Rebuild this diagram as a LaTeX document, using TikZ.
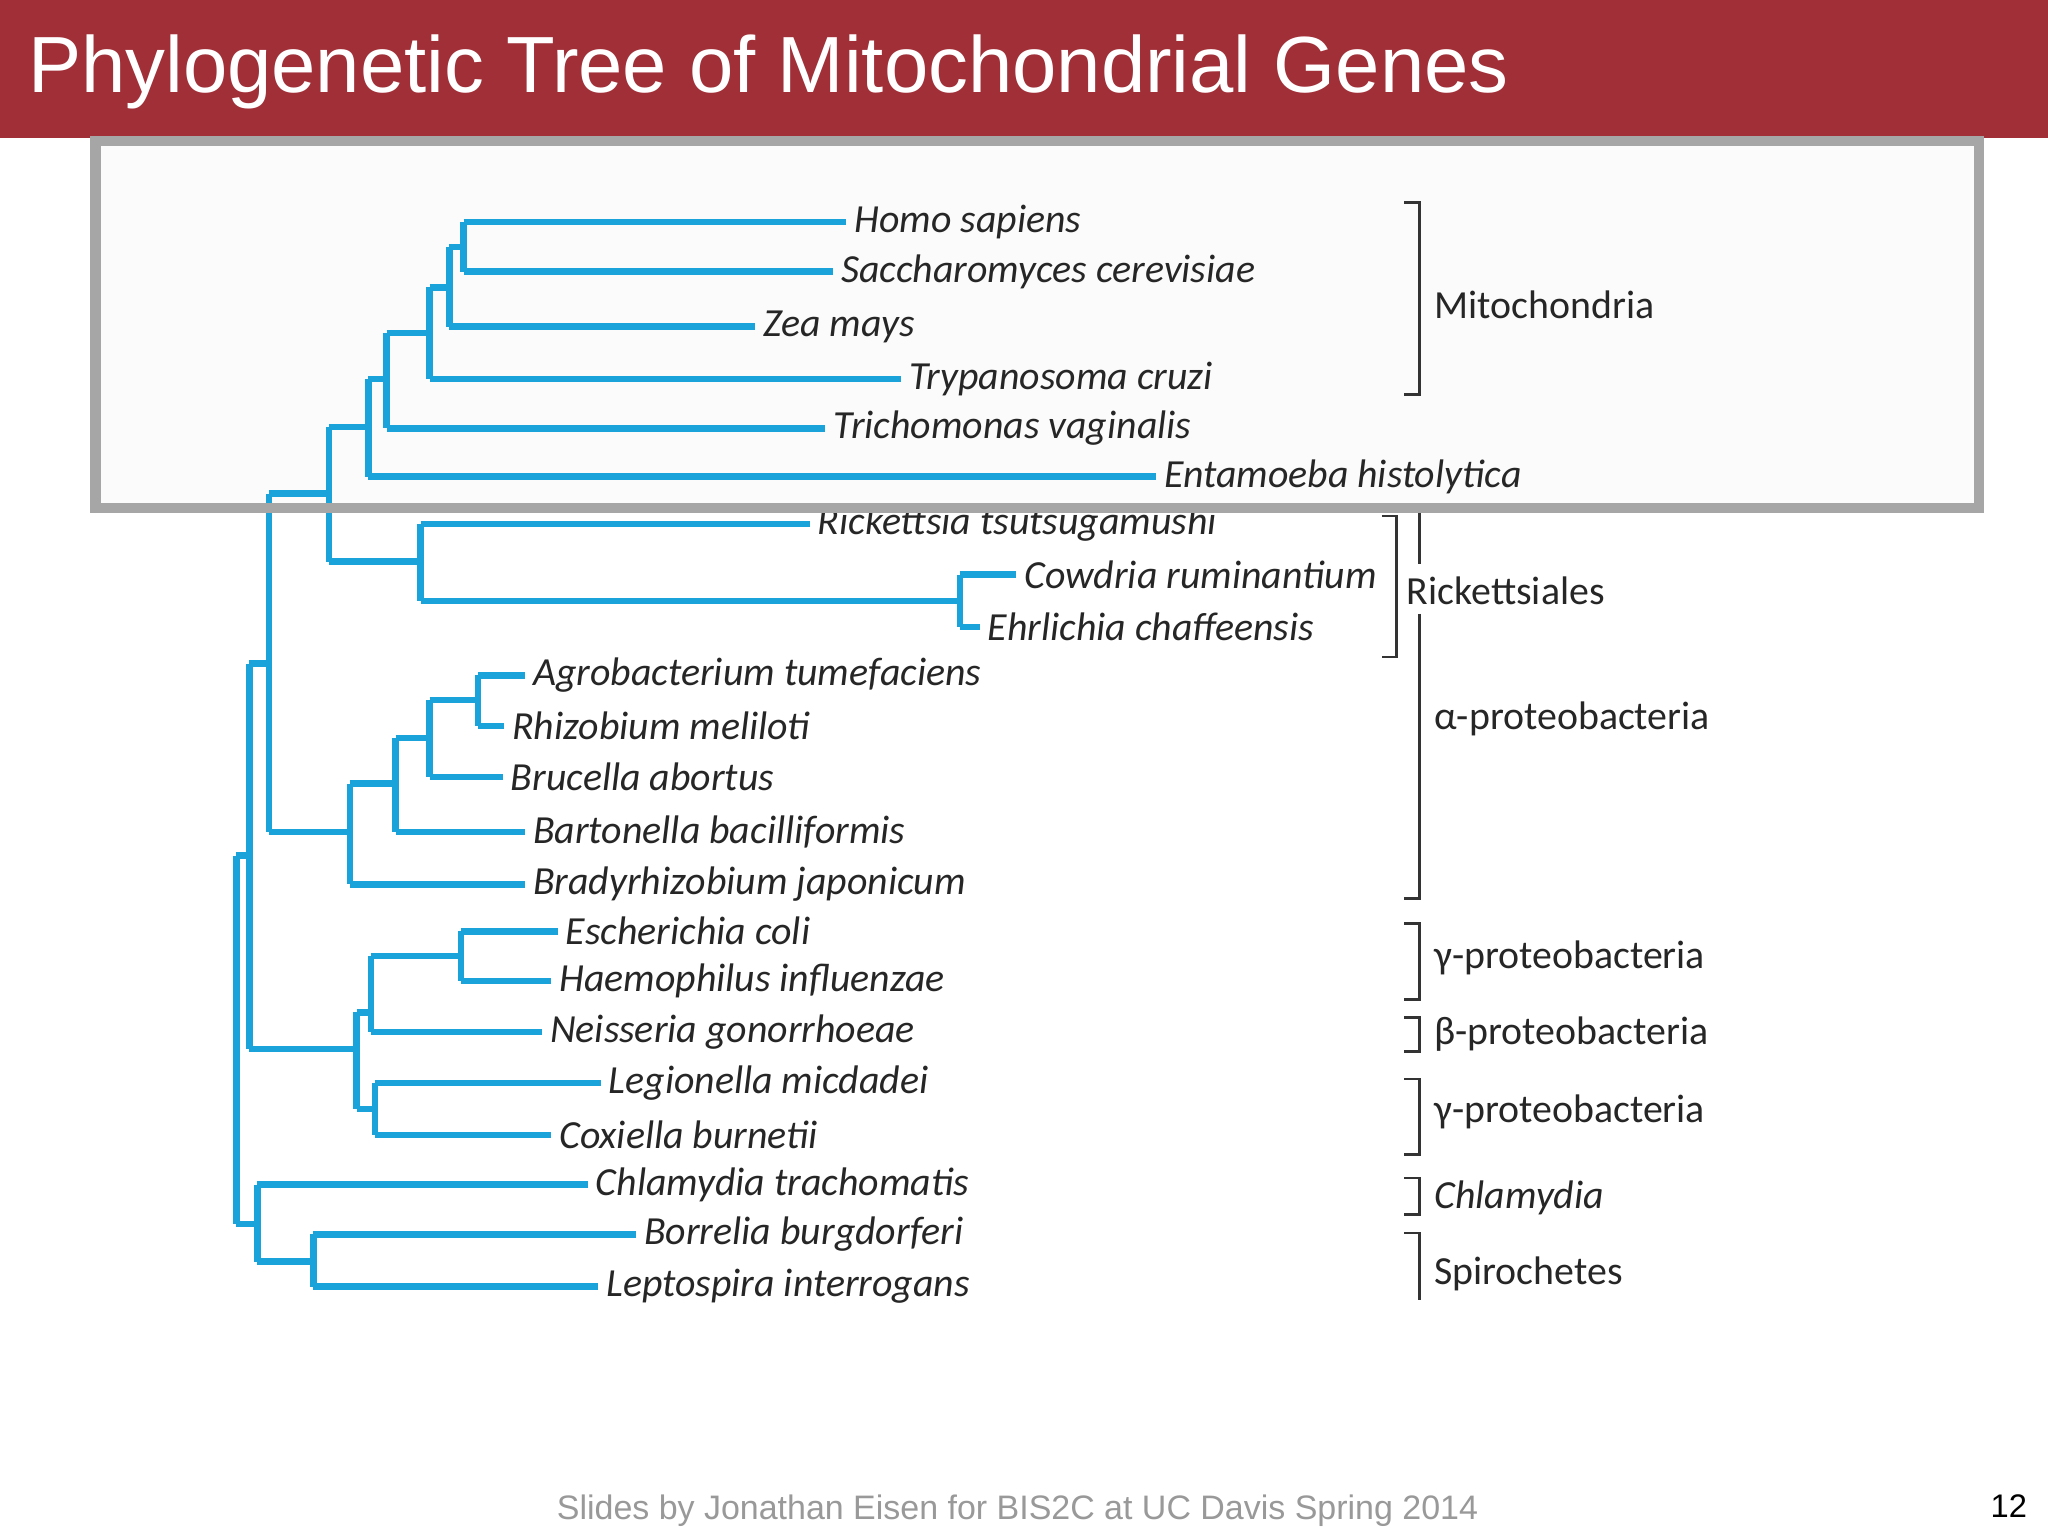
\documentclass[tikz,border=0pt]{standalone}
\usepackage{fontspec}
\setmainfont{Carlito}
\newfontfamily\arial{Liberation Sans}
\definecolor{tb}{HTML}{1AA3DB}
\definecolor{bar}{HTML}{A12F38}
\begin{document}
\begin{tikzpicture}[x=1pt,y=-1pt,
  br/.style={draw=tb,line width=5pt,line cap=butt,line join=miter},
  lf/.style={anchor=west,inner sep=0pt,font=\fontsize{30.5}{34}\selectfont\itshape,text=black!85},
  gl/.style={anchor=west,inner sep=0pt,font=\fontsize{30.5}{34}\selectfont,text=black!85},
  bk/.style={draw=black!80,line width=2pt}]
\useasboundingbox (0,0) rectangle (1568,1176);
\fill[white] (0,0) rectangle (1568,1176);
\fill[bar] (0,0) rectangle (1568,106);
\node[anchor=west,text=white,font=\arial\fontsize{61}{64}\selectfont] (title) at (18,55) {Phylogenetic Tree of Mitochondrial Genes};
\fill[green!20!black!2] (73,108) rectangle (1515,389);
\foreach \n/\y/\e/\s/\t in {
 hs/170/648/355/Homo sapiens,
 sc/208/638/355/Saccharomyces cerevisiae,
 zm/250/578/344/Zea mays,
 tc/290/690/329/Trypanosoma cruzi,
 tv/328/632/296/Trichomonas vaginalis,
 eh/365/885/282/Entamoeba histolytica,
 rt/401/620/322/Rickettsia tsutsugamushi,
 cr/440/778/735/Cowdria ruminantium,
 ec/480/750/735/Ehrlichia chaffeensis,
 at/517/402/366/Agrobacterium tumefaciens,
 rm/556/386/366/Rhizobium meliloti,
 ba/595/385/329/Brucella abortus,
 bb/637/402/303/Bartonella bacilliformis,
 bj/677/402/268/Bradyrhizobium japonicum,
 co/713/427/353/Escherichia coli,
 hi/751/422/353/Haemophilus influenzae,
 ng/790/415/284/Neisseria gonorrhoeae,
 lm/829/460/287/Legionella micdadei,
 cb/869/422/287/Coxiella burnetii,
 ct/907/450/197/Chlamydia trachomatis,
 bg/945/487/240/Borrelia burgdorferi,
 li/985/458/240/Leptospira interrogans}{
 \node[lf] (\n) at (\e+6,\y) {\t};
 \draw[br] (\s,\y) -- (\e,\y);
}
\draw[br] (355,170) -- (355,208);
\draw[br] (344,189) -- (355,189); \draw[br] (344,189) -- (344,250);
\draw[br] (329,220) -- (344,220); \draw[br] (329,220) -- (329,290);
\draw[br] (296,255) -- (329,255); \draw[br] (296,255) -- (296,328);
\draw[br] (282,290) -- (296,290); \draw[br] (282,290) -- (282,365);
\draw[br] (252,327) -- (282,327); \draw[br] (252,327) -- (252,430);
\draw[br] (735,440) -- (735,480); \draw[br] (322,460) -- (735,460);
\draw[br] (322,401) -- (322,460); \draw[br] (252,430) -- (322,430);
\draw[br] (206,378) -- (252,378);
\draw[br] (366,517) -- (366,556);
\draw[br] (329,536) -- (366,536); \draw[br] (329,536) -- (329,595);
\draw[br] (303,565) -- (329,565); \draw[br] (303,565) -- (303,637);
\draw[br] (268,600) -- (303,600); \draw[br] (268,600) -- (268,677);
\draw[br] (206,637) -- (268,637); \draw[br] (206,378) -- (206,637);
\draw[br] (191,508) -- (206,508);
\draw[br] (353,713) -- (353,751);
\draw[br] (284,732) -- (353,732); \draw[br] (284,732) -- (284,790);
\draw[br] (287,829) -- (287,869);
\draw[br] (273,775) -- (284,775); \draw[br] (273,849) -- (287,849);
\draw[br] (273,775) -- (273,849); \draw[br] (191,803) -- (273,803);
\draw[br] (191,508) -- (191,803); \draw[br] (181,655) -- (191,655);
\draw[br] (240,945) -- (240,985);
\draw[br] (197,966) -- (240,966); \draw[br] (197,907) -- (197,966);
\draw[br] (181,937) -- (197,937); \draw[br] (181,655) -- (181,937);
\draw[bk] (1075,155) -- (1087,155) -- (1087,302) -- (1075,302);
\node[gl] (mito) at (1098,233) {Mitochondria};
\draw[bk] (1058,395) -- (1069,395) -- (1069,503) -- (1058,503);
\node[gl] (rick) at (1077,452) {Rickettsiales};
\draw[bk] (1087,392) -- (1087,432); \draw[bk] (1087,470) -- (1087,688) -- (1075,688);
\node[gl] (alpha) at (1098,550) {α-proteobacteria};
\draw[bk] (1075,707) -- (1087,707) -- (1087,765) -- (1075,765);
\node[gl] (g1) at (1098,733) {γ-proteobacteria};
\draw[bk] (1075,779) -- (1087,779) -- (1087,805) -- (1075,805);
\node[gl] (be) at (1098,792) {β-proteobacteria};
\draw[bk] (1075,826) -- (1087,826) -- (1087,884) -- (1075,884);
\node[gl] (g2) at (1098,851) {γ-proteobacteria};
\draw[bk] (1075,902) -- (1087,902) -- (1087,930) -- (1075,930);
\node[gl,font=\fontsize{30.5}{34}\selectfont\itshape] (chl) at (1098,917) {Chlamydia};
\draw[bk] (1075,944) -- (1087,944) -- (1087,995);
\node[gl] (spi) at (1098,975) {Spirochetes};
\draw[black!35,line width=8pt] (73,108) rectangle (1515,389);
\node[text=black!40,font=\arial\fontsize{26}{28}\selectfont] (foot) at (779,1157) {Slides by Jonathan Eisen for BIS2C at UC Davis Spring 2014};
\node[font=\arial\fontsize{25}{28}\selectfont] (pg) at (1538,1153) {12};
\end{tikzpicture}
\end{document}
